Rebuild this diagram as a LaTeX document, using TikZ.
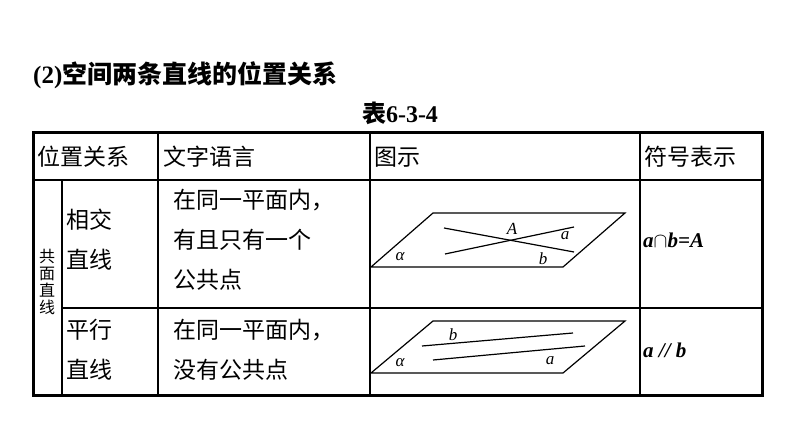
\documentclass[tikz,border=0pt]{standalone}
\usepackage{fontspec}
\setmainfont{Liberation Serif}
\newfontfamily\cjk{Noto Sans CJK SC}
\begin{document}
\begin{tikzpicture}[x=1pt,y=-1pt,
    cell/.style={anchor=west,inner sep=0pt,font=\cjk\fontsize{23}{23}\selectfont},
    lbl/.style={inner sep=0pt,font=\itshape\fontsize{17}{17}\selectfont},
    sym/.style={anchor=west,inner sep=0pt,font=\bfseries\itshape\fontsize{21}{21}\selectfont},
    fig/.style={line width=1.2pt}]
		\useasboundingbox (0,0) rectangle (794,446);

		% title
		\node[anchor=west,inner sep=0pt] (title) at (33,75) {\fontsize{25}{25}\selectfont\textbf{(2)}{\cjk\bfseries 空间两条直线的位置关系}};
		\node[inner sep=0pt] (tab) at (400,113) {\fontsize{24}{24}\selectfont{\cjk\bfseries 表}\textbf{6-3-4}};

		% table frame
		\draw[line width=3pt] (33,133) rectangle (762,395);
		\draw[line width=1.3pt] (33,180) -- (762,180);
		\draw[line width=1.3pt] (62,180) -- (62,395);
		\draw[line width=1.3pt] (62,308) -- (762,308);
		\foreach \x in {158,370,640} {
				\draw[line width=1.3pt] (\x,133) -- (\x,395);
			}

		% header
		\node[cell] (h1) at (37,157) {位置关系};
		\node[cell] (h2) at (163,157) {文字语言};
		\node[cell] (h3) at (374,157) {图示};
		\node[cell] (h4) at (644,157) {符号表示};

		% first column
		\node[inner sep=0pt,align=center,font=\cjk\fontsize{16}{17}\selectfont] (cop) at (47,282) {共\\面\\直\\线};
		\node[cell] (r1a) at (66,220) {相交};
		\node[cell] (r1b) at (66,260) {直线};
		\node[cell] (r2a) at (66,330) {平行};
		\node[cell] (r2b) at (66,370) {直线};

		% text column
		\node[cell] (t1) at (173,200) {在同一平面内，};
		\node[cell] (t2) at (173,240) {有且只有一个};
		\node[cell] (t3) at (173,280) {公共点};
		\node[cell] (t4) at (173,330) {在同一平面内，};
		\node[cell] (t5) at (173,370) {没有公共点};

		% intersecting lines
		\draw[fig] (371,267) -- (433,213) -- (625,213) -- (563,267) -- cycle;
		\draw[fig] (444,228) -- (574,252);
		\draw[fig] (445,254) -- (574,227);
		\node[lbl] (pA) at (512,229) {A};
		\node[lbl] (la1) at (565,236) {a};
		\node[lbl] (lb1) at (543,259) {b};
		\node[lbl] (al1) at (400,257) {α};

		% parallel lines
		\draw[fig] (371,373) -- (433,321) -- (625,321) -- (563,373) -- cycle;
		\draw[fig] (422,346) -- (573,333);
		\draw[fig] (433,360) -- (585,346);
		\node[lbl] (lb2) at (453,335) {b};
		\node[lbl] (la2) at (550,361) {a};
		\node[lbl] (al2) at (400,363) {α};

		% symbols
		\node[sym] (s1) at (643,240) {a$\cap$b=A};
		\node[sym] (s2) at (643,350) {a // b};
	\end{tikzpicture}
\end{document}
